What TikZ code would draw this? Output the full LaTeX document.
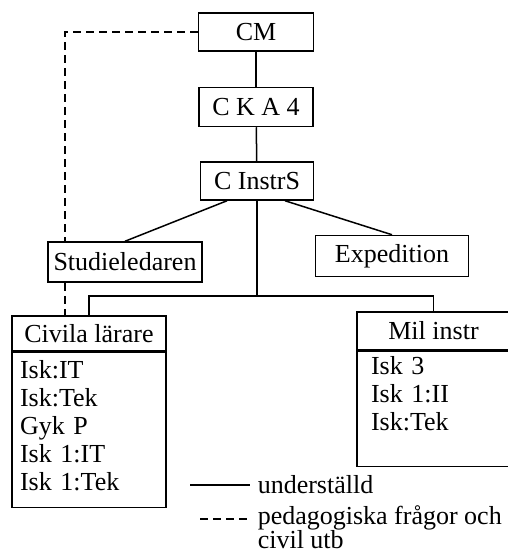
\documentclass[tikz,border=0pt]{standalone}
\usepackage{fontspec}
\setmainfont{Liberation Serif}
\usetikzlibrary{positioning}

\tikzset{
  orgbox/.style={draw, line width=1.5pt, fill=white, inner sep=0pt,
    font=\fontsize{26}{28}\selectfont},
  listbox/.style={orgbox, align=left, text width=#1},
  ped/.style={dash pattern=on 8pt off 5pt},
  legtext/.style={font=\fontsize{26}{24}\selectfont, inner sep=0pt}
}

\begin{document}
\begin{tikzpicture}[x=1pt,y=-1pt,line width=1.5pt]
\useasboundingbox (0,0) rectangle (508,554);

\node[orgbox,minimum width=115pt,minimum height=38pt] (cm) at (256,32) {CM};
\node[orgbox,minimum width=114pt,minimum height=39pt] (cka) at (256,107) {C K A 4};
\node[orgbox,minimum width=113pt,minimum height=38pt] (instr) at (257,181) {C InstrS};
\node[orgbox,minimum width=154pt,minimum height=40pt] (stud) at (125,262) {Studieledaren};
\node[orgbox,minimum width=153pt,minimum height=41pt] (exp) at (392,256) {Expedition};

\node[orgbox,minimum width=154pt,minimum height=35pt] (civ) at (89,333.5) {Civila lärare};
\node[listbox=138pt,inner xsep=8pt,text height=26pt,text depth=129pt,below=0pt of civ] (civlist)
  {Isk:IT\\Isk:Tek\\Gyk P\\Isk 1:IT\\Isk 1:Tek};
\node[orgbox,minimum width=153pt,minimum height=38pt] (mil) at (433.5,331) {Mil instr};
\node[listbox=125pt,inner xsep=14pt,text height=23pt,text depth=92pt,below=0pt of mil] (millist)
  {Isk 3\\Isk 1:II\\Isk:Tek};

\coordinate (dl) at (65,0);
\coordinate (split) at (257,296);

\draw (cm) -- (cka);
\draw (cka) -- (instr);
\draw (instr.south) -- (split);
\draw (civ.north) |- (split) -| (mil.north);
\draw ([xshift=-30pt]instr.south) -- (stud.north);
\draw ([xshift=28pt]instr.south) -- (exp.north);
\draw[ped] (cm.west) -| (dl |- stud.north);
\draw[ped] (dl |- stud.south) -- (dl |- civ.north);

% legend
\coordinate (la) at (190,485);
\coordinate (lb) at (250,485);
\coordinate (lc) at (200,519);
\coordinate (ld) at (250,519);
\draw (la) -- (lb);
\draw[ped] (lc) -- (ld);
\node[legtext,anchor=west] (lsub) at ([xshift=7pt]lb) {underställd};
\node[legtext,anchor=north west,align=left] (lped) at (257,505) {pedagogiska frågor och\\civil utb};
\end{tikzpicture}
\end{document}
